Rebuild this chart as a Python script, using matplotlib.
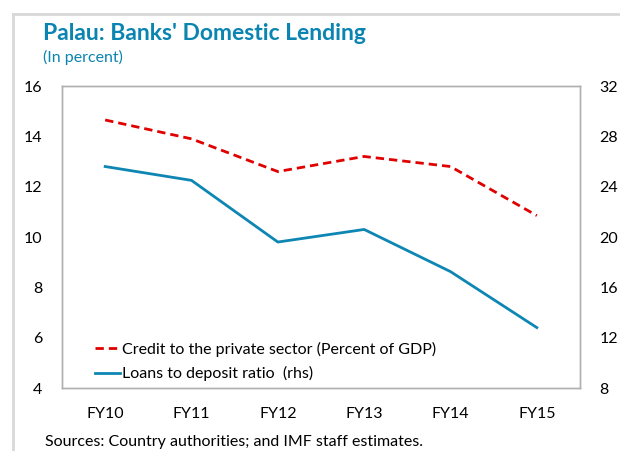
import matplotlib.pyplot as plt
from matplotlib.lines import Line2D

years = ['FY10', 'FY11', 'FY12', 'FY13', 'FY14', 'FY15']
credit = [14.65, 13.9, 12.6, 13.2, 12.8, 10.85]
loans = [25.6, 24.5, 19.6, 20.6, 17.25, 12.8]

plt.rcParams['font.family'] = ['Lato', 'DejaVu Sans']

fig = plt.figure(figsize=(6.2, 4.51), dpi=100)
ax = fig.add_axes([62 / 620, 1 - 388 / 451, 518 / 620, 302 / 451])
ax2 = ax.twinx()

x = list(range(len(years)))
l1, = ax.plot(x, credit, color='#e00000', lw=2.0, ls=(0, (3, 1.8)))
l2, = ax2.plot(x, loans, color='#0e86b4', lw=2.0)

ax.set_xlim(-0.5, len(years) - 0.5)
ax.set_ylim(4, 16)
ax.set_yticks(range(4, 17, 2))
ax2.set_ylim(8, 32)
ax2.set_yticks(range(8, 33, 4))
ax.set_xticks(x)
ax.set_xticklabels(years)

for a in (ax, ax2):
    for s in a.spines.values():
        s.set_color('#b0b0b0')
        s.set_linewidth(1.0)
    a.tick_params(length=0, labelsize=11.5, colors='black')
ax.tick_params(axis='x', pad=14)
ax.tick_params(axis='y', pad=14)
ax2.tick_params(axis='y', pad=14)

ax.legend([l1, l2], ['Credit to the private sector (Percent of GDP)',
                     'Loans to deposit ratio  (rhs)'],
          loc='lower left', bbox_to_anchor=(0.035, -0.025), frameon=False,
          fontsize=11.5, handlelength=1.6, handletextpad=0.1, labelspacing=0.6)

# outer frame lines
fig.add_artist(Line2D([13 / 620, 1], [1 - 13.5 / 451] * 2, color='#d8d8d8', lw=2))
fig.add_artist(Line2D([13 / 620] * 2, [0, 1 - 13.5 / 451], color='#d8d8d8', lw=2))

fig.text(43 / 620, 1 - 34 / 451, "Palau: Banks' Domestic Lending", fontsize=16.5,
         fontweight='bold', color='#0a84b0', va='center')
fig.text(43 / 620, 1 - 57 / 451, "(In percent)", fontsize=11.5,
         color='#0a84b0', va='center')
fig.text(45 / 620, 1 - 442 / 451, "Sources: Country authorities; and IMF staff estimates.",
         fontsize=11.5, va='center')

fig.savefig('out.png', dpi=100)
